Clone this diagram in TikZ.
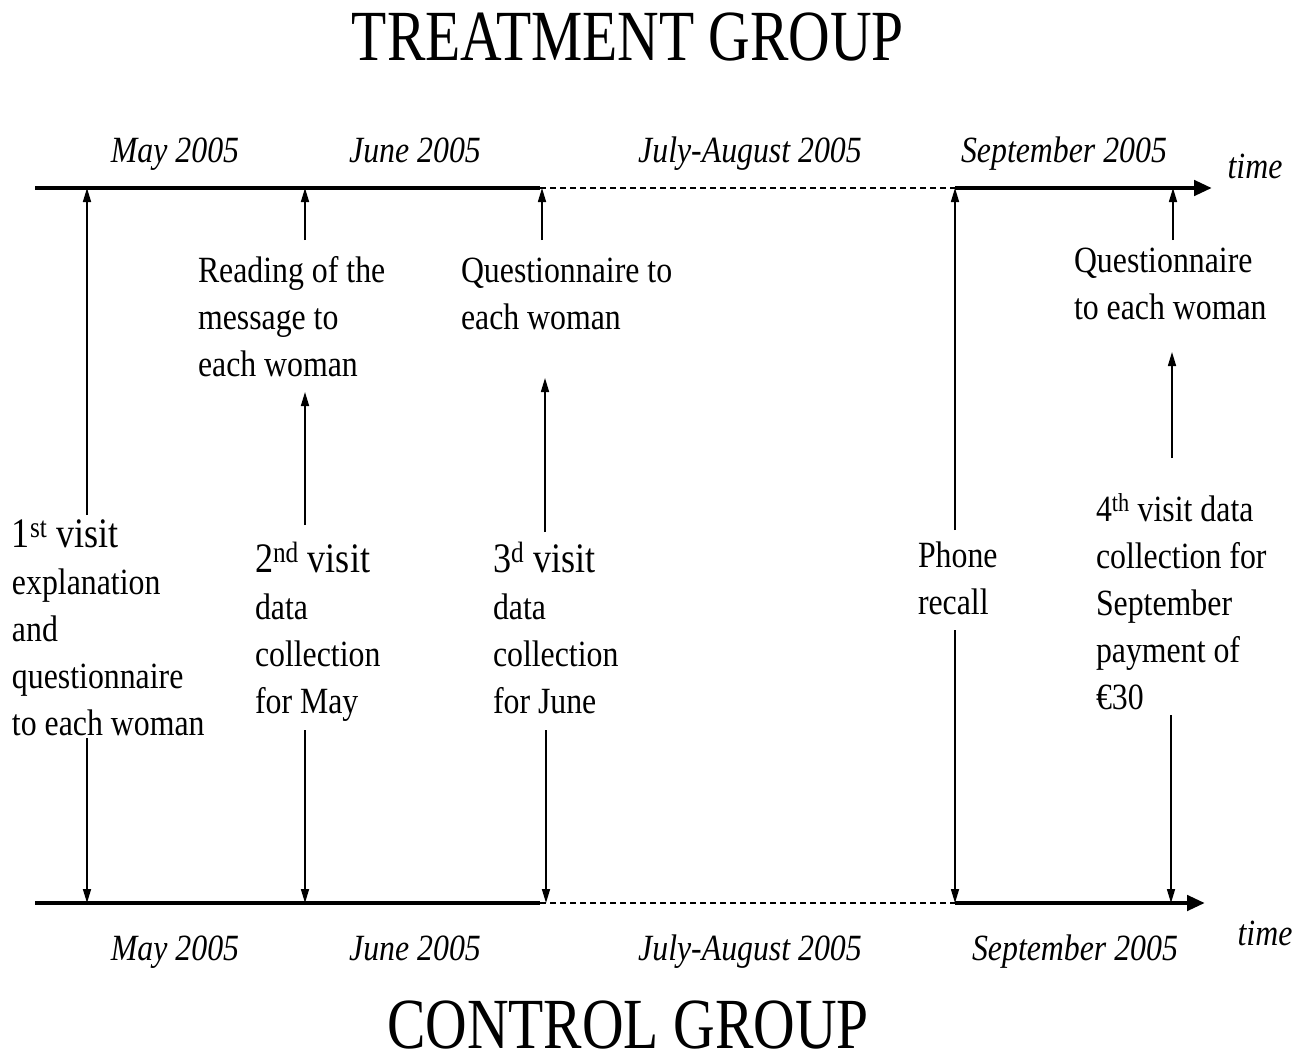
\documentclass[tikz,border=0pt]{standalone}
\usepackage{fontspec}
\setmainfont{Liberation Serif}[FakeStretch=0.86]
\newfontfamily\titlefont{Liberation Serif}[FakeStretch=0.80]
\usetikzlibrary{arrows.meta}
\begin{document}
\begin{tikzpicture}[x=1pt,y=-1pt,
  every node/.style={inner sep=0pt, outer sep=0pt},
  title/.style={font=\titlefont\fontsize{72}{80}\selectfont, anchor=base, text depth=0pt},
  datelbl/.style={font=\itshape\fontsize{37}{44}\selectfont, anchor=base},
  body/.style={font=\fontsize{37}{47}\selectfont, align=left, anchor=base west},
  tline/.style={line width=4.5pt},
  dline/.style={line width=1.2pt, dash pattern=on 6pt off 4pt},
  tarrow/.style={line width=4.5pt, -{Triangle[length=18pt,width=15pt]}},
  conn/.style={line width=1.6pt, -{Triangle[length=14pt,width=8pt]}}
]
\useasboundingbox (0,0) rectangle (1310,1057);

% titles
\node[title] (ttitle) at (628,61) {TREATMENT GROUP};
\node[title] (ctitle) at (628,1048) {CONTROL GROUP};

% top timeline
\coordinate (T0) at (35,188);
\coordinate (Td1) at (540,188);
\coordinate (Td2) at (955,188);
\coordinate (Tend) at (1212,188);
\draw[tline] (T0) -- (Td1);
\draw[dline] (Td1) -- (Td2);
\draw[tarrow] (Td2) -- (Tend);

% bottom timeline
\coordinate (B0) at (35,903);
\coordinate (Bd1) at (540,903);
\coordinate (Bd2) at (955,903);
\coordinate (Bend) at (1205,903);
\draw[tline] (B0) -- (Bd1);
\draw[dline] (Bd1) -- (Bd2);
\draw[tarrow] (Bd2) -- (Bend);

% dates top
\node[datelbl] (tmay) at (175,162) {May 2005};
\node[datelbl] (tjun) at (415,162) {June 2005};
\node[datelbl] (tjul) at (750,162) {July-August 2005};
\node[datelbl] (tsep) at (1064,162) {September 2005};
\node[datelbl] (ttime) at (1255,178) {time};

% dates bottom
\node[datelbl] (bmay) at (175,960) {May 2005};
\node[datelbl] (bjun) at (415,960) {June 2005};
\node[datelbl] (bjul) at (750,960) {July-August 2005};
\node[datelbl] (bsep) at (1075,960) {September 2005};
\node[datelbl] (btime) at (1265,945) {time};

% text blocks (base = baseline of last line)
\node[body] (read) at (198,376) {Reading of the\\message to\\each woman};
\node[body] (quest1) at (461,329) {Questionnaire to\\each woman};
\node[body] (quest2) at (1074,319) {Questionnaire\\to each woman};
\node[body] (v1) at (12,735) {{\fontsize{42}{47}\selectfont 1\textsuperscript{st} visit}\\explanation\\and\\questionnaire\\to each woman};
\node[body] (v2) at (255,713) {{\fontsize{42}{47}\selectfont 2\textsuperscript{nd} visit}\\data\\collection\\for May};
\node[body] (v3) at (493,713) {{\fontsize{42}{47}\selectfont 3\textsuperscript{d} visit}\\data\\collection\\for June};
\node[body] (phone) at (918,614) {Phone\\recall};
\node[body] (v4) at (1096,709) {4\textsuperscript{th} visit data\\collection for\\September\\payment of\\€30};

% points on top line
\coordinate (tp1) at (87,188);
\coordinate (tp2) at (305,188);
\coordinate (tp3) at (542,188);
\coordinate (tp4) at (955,188);
\coordinate (tp5) at (1173,188);
% points on bottom line
\coordinate (bp1) at (87,903);
\coordinate (bp2) at (305,903);
\coordinate (bp3) at (546,903);
\coordinate (bp4) at (955,903);
\coordinate (bp5) at (1171,903);

% arrow start points
\coordinate (s1) at (87,515);
\coordinate (s2) at (305,240);
\coordinate (s3) at (542,240);
\coordinate (s4) at (955,530);
\coordinate (s5) at (1173,240);
\coordinate (m2s) at (305,525);
\coordinate (m2e) at (305,392);
\coordinate (m3s) at (545,532);
\coordinate (m3e) at (545,378);
\coordinate (m5s) at (1172,458);
\coordinate (m5e) at (1172,352);
\coordinate (e1) at (87,738);
\coordinate (e2) at (305,730);
\coordinate (e3) at (546,730);
\coordinate (e4) at (955,630);
\coordinate (e5) at (1171,715);

\draw[conn] (s1) -- (tp1);
\draw[conn] (s2) -- (tp2);
\draw[conn] (s3) -- (tp3);
\draw[conn] (s4) -- (tp4);
\draw[conn] (s5) -- (tp5);
\draw[conn] (m2s) -- (m2e);
\draw[conn] (m3s) -- (m3e);
\draw[conn] (m5s) -- (m5e);
\draw[conn] (e1) -- (bp1);
\draw[conn] (e2) -- (bp2);
\draw[conn] (e3) -- (bp3);
\draw[conn] (e4) -- (bp4);
\draw[conn] (e5) -- (bp5);
\end{tikzpicture}
\end{document}
